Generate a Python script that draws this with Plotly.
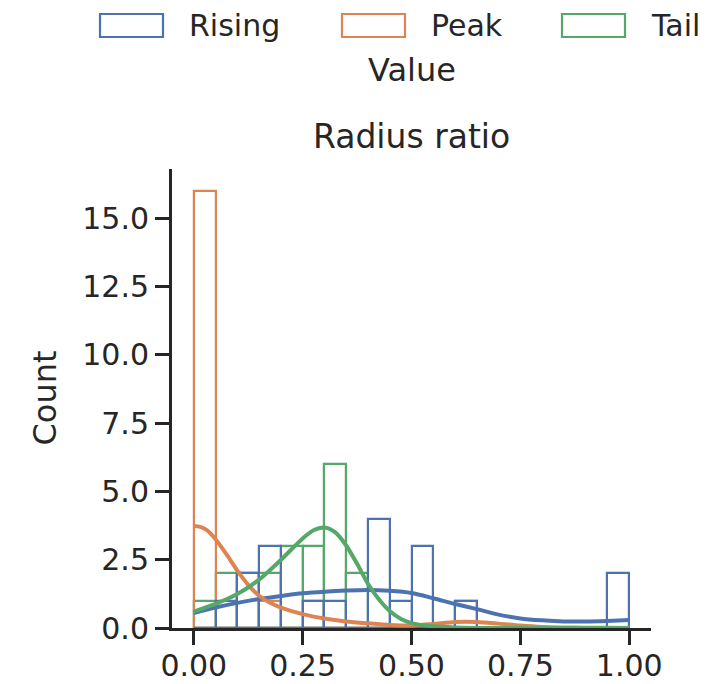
import plotly.graph_objects as go

# Histogram bins (left edges, width 0.05) shared by all three groups
bin_left = [0.00, 0.05, 0.10, 0.15, 0.20, 0.25, 0.30, 0.35, 0.40, 0.45,
            0.50, 0.55, 0.60, 0.65, 0.70, 0.75, 0.80, 0.85, 0.90, 0.95]
bin_width = 0.05

rising_counts = [0, 1, 2, 3, 0, 1, 1, 0, 4, 1, 3, 0, 1, 0, 0, 0, 0, 0, 0, 2]
peak_counts = [16, 0, 0, 1, 0, 1, 0, 0, 0, 0, 0, 0, 1, 0, 0, 0, 0, 0, 0, 0]
tail_counts = [1, 2, 2, 2, 3, 3, 6, 2, 0, 0, 0, 0, 0, 0, 0, 0, 0, 0, 0, 0]

# Smoothed density curves (in count units) sampled along the value axis
rising_kde_x = [0.00, 0.05, 0.10, 0.15, 0.20, 0.25, 0.30, 0.35, 0.40, 0.45,
                0.50, 0.55, 0.60, 0.65, 0.70, 0.75, 0.80, 0.85, 0.90, 0.95, 1.00]
rising_kde = [0.55, 0.75, 0.92, 1.06, 1.17, 1.27, 1.33, 1.37, 1.39, 1.36,
              1.28, 1.09, 0.88, 0.69, 0.49, 0.35, 0.28, 0.24, 0.24, 0.26, 0.29]

peak_kde_x = [0.000, 0.015, 0.030, 0.050, 0.075, 0.100, 0.125, 0.150, 0.175,
              0.20, 0.25, 0.30, 0.35, 0.40, 0.45, 0.50, 0.55, 0.60, 0.65,
              0.70, 0.75, 0.80, 0.85, 0.90, 0.95, 1.00]
peak_kde = [3.73, 3.70, 3.58, 3.25, 2.70, 2.10, 1.58, 1.18, 0.92,
            0.75, 0.51, 0.35, 0.24, 0.17, 0.11, 0.09, 0.15, 0.22, 0.22,
            0.16, 0.09, 0.04, 0.02, 0.01, 0.01, 0.00]

tail_kde_x = [0.00, 0.05, 0.10, 0.15, 0.20, 0.25, 0.275, 0.30, 0.325, 0.35,
              0.375, 0.40, 0.425, 0.45, 0.475, 0.50, 0.55, 0.60, 0.70, 0.80,
              0.90, 1.00]
tail_kde = [0.60, 0.88, 1.24, 1.77, 2.49, 3.28, 3.58, 3.68, 3.50, 3.02,
            2.35, 1.62, 1.05, 0.62, 0.34, 0.18, 0.06, 0.02, 0.00, 0.00,
            0.00, 0.00]

groups = ["Rising", "Peak", "Tail"]
colors = {"Rising": "#4C72B0", "Peak": "#DD8452", "Tail": "#55A868"}
counts = {"Rising": rising_counts, "Peak": peak_counts, "Tail": tail_counts}
kde_xs = {"Rising": rising_kde_x, "Peak": peak_kde_x, "Tail": tail_kde_x}
kdes = {"Rising": rising_kde, "Peak": peak_kde, "Tail": tail_kde}

x_ticks = [0.0, 0.25, 0.5, 0.75, 1.0]
y_ticks = [0.0, 2.5, 5.0, 7.5, 10.0, 12.5, 15.0]

FONT = "DejaVu Sans"
INK = "#262626"
W, H = 723, 684
ML, MR, MT, MB = 172, 72, 169, 56
PW, PH = W - ML - MR, H - MT - MB


def px_x(p):
    return (p - ML) / PW


def px_y(p):
    return (H - MB - p) / PH


fig = go.Figure()

# Unfilled histogram bars, first group drawn last so it sits on top
for g in reversed(groups):
    fig.add_trace(go.Bar(
        x=bin_left, y=counts[g], width=bin_width, offset=0,
        marker=dict(color="rgba(0,0,0,0)",
                    line=dict(color=colors[g], width=2.2)),
        name=g, showlegend=False, hoverinfo="skip",
    ))

# Density curves
for g in groups:
    fig.add_trace(go.Scatter(
        x=kde_xs[g], y=kdes[g], mode="lines",
        line=dict(color=colors[g], width=4, shape="spline", smoothing=0.8),
        showlegend=False, hoverinfo="skip",
    ))

axis_common = dict(
    showline=True, linewidth=3, linecolor=INK,
    ticks="outside", ticklen=14, tickwidth=3, tickcolor=INK,
    showgrid=False, zeroline=False, automargin=False,
    tickfont=dict(family=FONT, size=30, color=INK),
)

fig.update_layout(
    width=W, height=H,
    margin=dict(l=ML, r=MR, t=MT, b=MB),
    paper_bgcolor="white", plot_bgcolor="white",
    barmode="overlay", bargap=0,
    showlegend=False,
    font=dict(family=FONT, color=INK),
    xaxis=dict(range=[-0.05, 1.05], tickvals=x_ticks, tickformat=".2f",
               ticklabelstandoff=-5, **axis_common),
    yaxis=dict(range=[0, 16.8], tickvals=y_ticks, tickformat=".1f",
               **axis_common),
)

# Y axis label
fig.add_annotation(text="Count", xref="paper", yref="paper",
                   x=px_x(44), y=0.5, xanchor="center", yanchor="middle",
                   textangle=-90, showarrow=False,
                   font=dict(family=FONT, size=32, color=INK))

# Axes title and value label above the plot
fig.add_annotation(text="Radius ratio", xref="paper", yref="paper",
                   x=0.5, y=px_y(137), xanchor="center", yanchor="middle",
                   showarrow=False, font=dict(family=FONT, size=33, color=INK))
fig.add_annotation(text="Value", xref="paper", yref="paper",
                   x=0.5, y=px_y(70), xanchor="center", yanchor="middle",
                   showarrow=False, font=dict(family=FONT, size=32, color=INK))

# Legend row: outlined patches with labels
legend_box_left = {"Rising": 100, "Peak": 342, "Tail": 562}
for g in groups:
    x0 = legend_box_left[g]
    fig.add_shape(type="rect", xref="paper", yref="paper",
                  x0=px_x(x0), x1=px_x(x0 + 63), y0=px_y(37), y1=px_y(14),
                  line=dict(color=colors[g], width=2.2),
                  fillcolor="rgba(0,0,0,0)")
    fig.add_annotation(text=g, xref="paper", yref="paper",
                       x=px_x(x0 + 87), y=px_y(25), xanchor="left",
                       yanchor="middle", showarrow=False,
                       font=dict(family=FONT, size=30, color=INK))

fig.write_html("out.html")
